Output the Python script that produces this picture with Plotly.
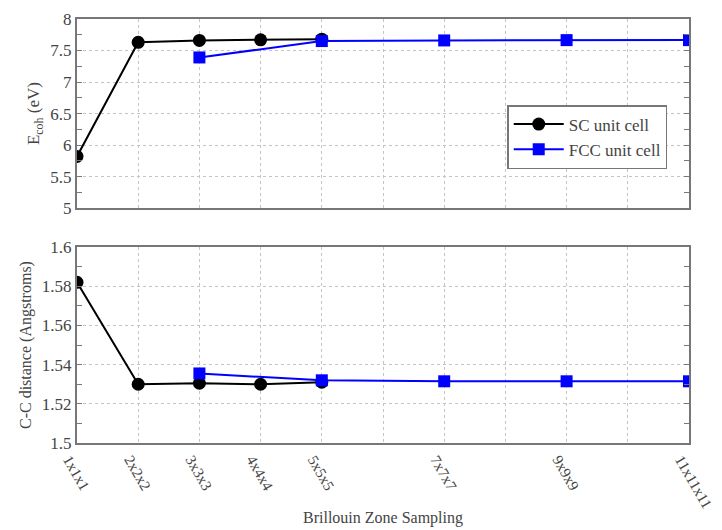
import plotly.graph_objects as go

x_vals = [1, 2, 3, 4, 5, 7, 9, 11]
x_text = ["1x1x1", "2x2x2", "3x3x3", "4x4x4", "5x5x5", "7x7x7", "9x9x9", "11x11x11"]

sc_x = [1, 2, 3, 4, 5]
sc_ecoh = [5.82, 7.63, 7.66, 7.67, 7.68]
sc_dist = [1.582, 1.530, 1.5305, 1.530, 1.531]

fcc_x = [3, 5, 7, 9, 11]
fcc_ecoh = [7.39, 7.65, 7.66, 7.665, 7.665]
fcc_dist = [1.5355, 1.532, 1.5315, 1.5315, 1.5315]

font_family = "Liberation Serif"
axis_col = "#777777"
grid_col = "#c4c4c4"
text_col = "#444444"

fig = go.Figure()

fig.add_trace(go.Scatter(x=sc_x, y=sc_ecoh, mode="lines+markers", name="SC unit cell",
                         line=dict(color="black", width=2),
                         marker=dict(symbol="circle", size=13, color="black"),
                         xaxis="x", yaxis="y"))
fig.add_trace(go.Scatter(x=fcc_x, y=fcc_ecoh, mode="lines+markers", name="FCC unit cell",
                         line=dict(color="#0000ff", width=2),
                         marker=dict(symbol="square", size=12, color="#0000ff"),
                         xaxis="x", yaxis="y"))
fig.add_trace(go.Scatter(x=sc_x, y=sc_dist, mode="lines+markers", name="SC unit cell",
                         line=dict(color="black", width=2),
                         marker=dict(symbol="circle", size=13, color="black"),
                         showlegend=False, xaxis="x2", yaxis="y2"))
fig.add_trace(go.Scatter(x=fcc_x, y=fcc_dist, mode="lines+markers", name="FCC unit cell",
                         line=dict(color="#0000ff", width=2),
                         marker=dict(symbol="square", size=12, color="#0000ff"),
                         showlegend=False, xaxis="x2", yaxis="y2"))

common_x = dict(range=[1, 11], tickvals=x_vals, showgrid=True, gridcolor=grid_col,
                griddash="dot", gridwidth=1, showline=True, linecolor=axis_col,
                linewidth=2, mirror=True, ticks="", zeroline=False, automargin=False,
                minor=dict(dtick=1, tick0=0, showgrid=True, gridcolor=grid_col,
                           griddash="dot", gridwidth=1, ticks=""))
common_y = dict(showgrid=True, gridcolor=grid_col, griddash="dot", gridwidth=1,
                showline=True, linecolor=axis_col, linewidth=2, mirror="allticks",
                ticks="inside", ticklen=5, tickcolor=axis_col, zeroline=False,
                automargin=False, ticklabeloverflow="allow",
                tickfont=dict(size=17, color=text_col, family=font_family))

fig.update_layout(
    width=722, height=530,
    margin=dict(l=69, r=41, t=11, b=95),
    paper_bgcolor="white", plot_bgcolor="white",
    font=dict(family=font_family, size=16, color=text_col),
    xaxis=dict(**common_x, anchor="y", showticklabels=False, domain=[0, 1]),
    yaxis=dict(**common_y, domain=[0.554, 1], range=[5, 8], dtick=0.5,
               minor=dict(dtick=0.25, ticks="inside", ticklen=5, tickcolor=axis_col, showgrid=False),
               title=dict(text="E<sub>coh</sub> (eV)", font=dict(size=17, color=text_col), standoff=6)),
    xaxis2=dict(**common_x, anchor="y2", ticktext=x_text, tickangle=60, domain=[0, 1],
                ticklabeloverflow="allow", ticklabelshift=-8,
                tickfont=dict(size=15, color=text_col, family=font_family)),
    yaxis2=dict(**common_y, domain=[0, 0.462], range=[1.5, 1.6], dtick=0.02,
                minor=dict(dtick=0.01, ticks="inside", ticklen=5, tickcolor=axis_col, showgrid=False),
                title=dict(text="C-C distance (Angstroms)", font=dict(size=16, color=text_col), standoff=6)),
    legend=dict(x=0.703, y=0.797, xanchor="left", yanchor="top",
                bgcolor="white", bordercolor=axis_col, borderwidth=1.5,
                itemwidth=50, tracegroupgap=4,
                font=dict(size=17, color=text_col, family=font_family)),
    annotations=[dict(text="Brillouin Zone Sampling", xref="paper", yref="paper",
                      x=0.5, y=-0.177, xanchor="center", yanchor="middle",
                      showarrow=False, font=dict(size=16, color=text_col, family=font_family))],
)

fig.write_html("out.html")
